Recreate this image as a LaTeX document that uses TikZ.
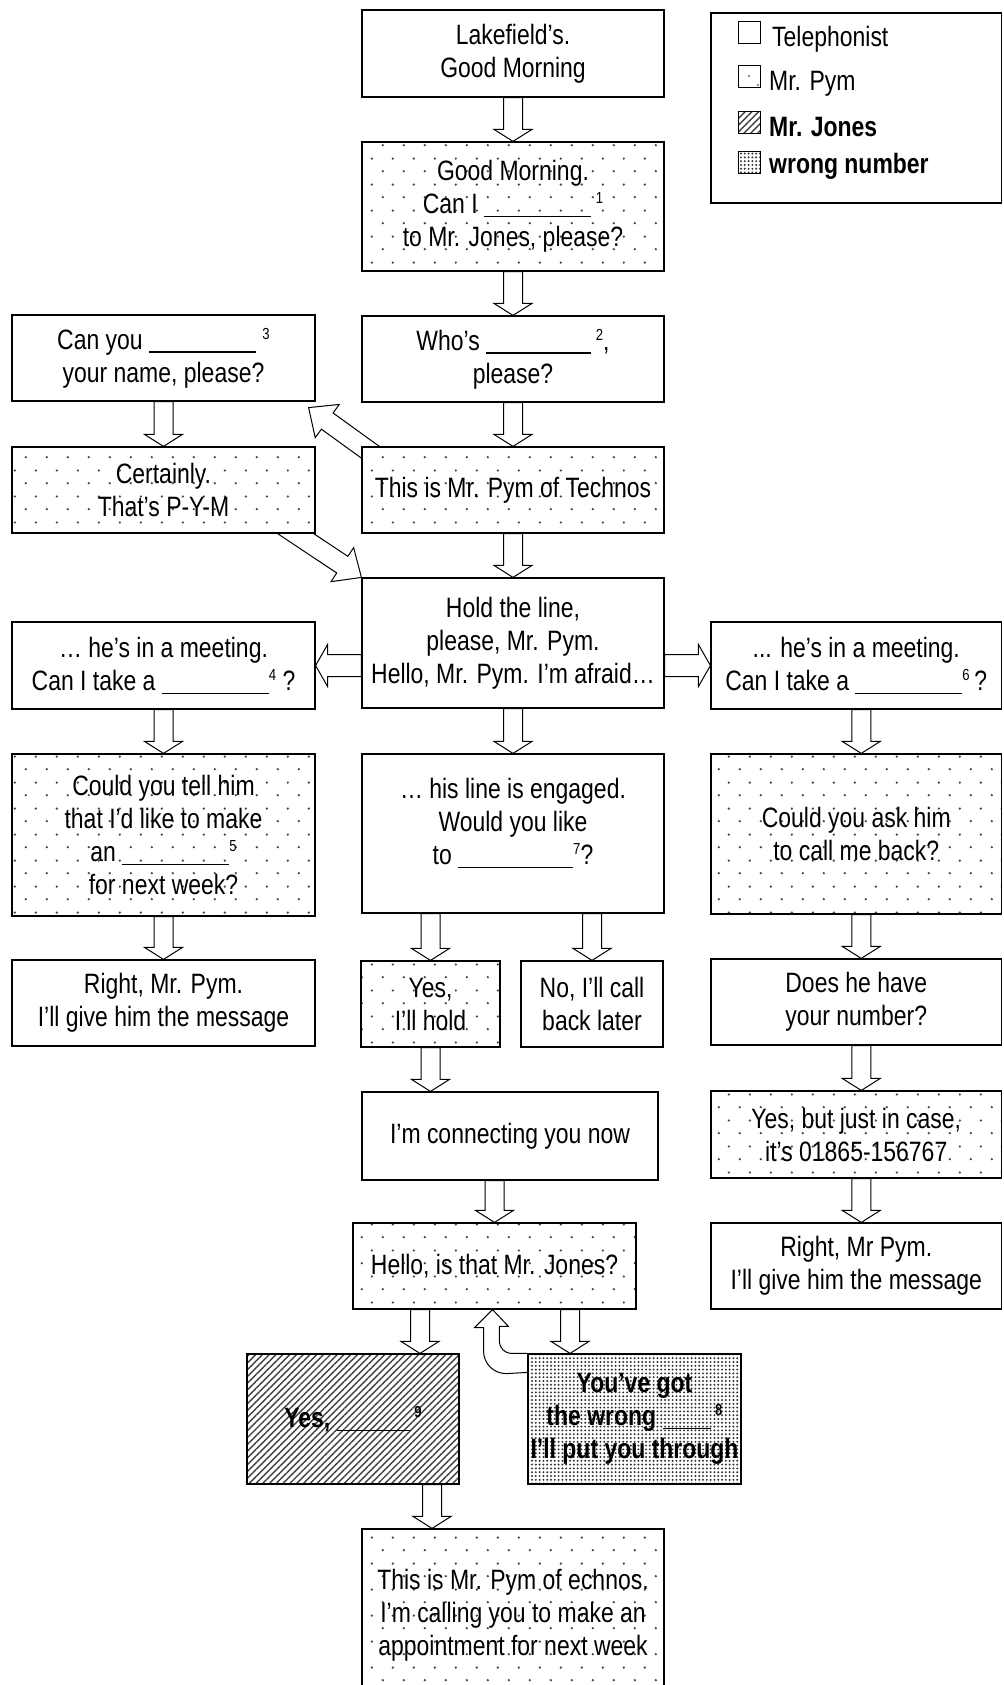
\documentclass[tikz,border=0pt]{standalone}
\usepackage{fontspec}
\setmainfont[FakeStretch=0.82]{Liberation Sans}
\usetikzlibrary{calc,patterns.meta}

\pgfdeclarelayer{back}
\pgfdeclarelayer{arrows}
\pgfsetlayers{back,arrows,main}

\newcommand\boxfont{\fontsize{28pt}{33pt}\selectfont}
\newcommand\supnum[1]{\raisebox{10pt}{\fontsize{16pt}{16pt}\selectfont #1}}
\newcommand\blankline[1][105pt]{\rule[-3.5pt]{#1}{1.3pt}}

% sparse staggered dots for Mr. Pym's lines
\tikzdeclarepattern{
  name=pymdots, type=uncolored,
  bounding box={(0pt,0pt) and (21pt,26pt)},
  tile size={(21pt,26pt)},
  code={\pgfpathcircle{\pgfpoint{5pt}{6pt}}{1.35pt}%
        \pgfpathcircle{\pgfpoint{15.5pt}{19pt}}{1.35pt}%
        \pgfusepath{fill}}
}

\tikzset{
  box/.style={draw, line width=1.2pt, fill=white, inner sep=0pt, align=center, font=\boxfont},
  pymfill/.style={path picture={\fill[pattern=pymdots, pattern color=black!70]
      (path picture bounding box.south west) rectangle (path picture bounding box.north east);}},
  jonesfill/.style={path picture={\fill[pattern={Lines[angle=45,distance=4.8pt,line width=1.4pt]}, pattern color=black!75]
      (path picture bounding box.south west) rectangle (path picture bounding box.north east);}},
  wrongfill/.style={path picture={\fill[pattern={Dots[distance=3.8pt,radius=1.1pt]}, pattern color=black!80]
      (path picture bounding box.south west) rectangle (path picture bounding box.north east);}},
  arrowline/.style={draw, line width=1pt, fill=white, line join=miter},
  keybox/.style={draw, line width=1pt, fill=white, minimum size=22pt, inner sep=0pt},
  keytext/.style={anchor=base west, inner sep=0pt, font=\boxfont},
}

% hollow block arrow: [shaft half width][head length][head half width]{from}{to}
\NewDocumentCommand\blockarr{O{9.5pt} O{12pt} O{19pt} m m}{%
  \coordinate (baS) at (#4);
  \coordinate (baE) at (#5);
  \coordinate (baH) at ($(baE)!#2!(baS)$);
  \path[arrowline] ($(baS)!#1!90:(baE)$) -- ($(baH)!#1!90:(baE)$) -- ($(baH)!#3!90:(baE)$)
    -- (baE) -- ($(baH)!#3!-90:(baE)$) -- ($(baH)!#1!-90:(baE)$) -- ($(baS)!#1!-90:(baE)$) -- cycle;
}

\begin{document}
\begin{tikzpicture}[x=1pt,y=-1pt]
\begin{pgfonlayer}{back}
  \fill[white] (0,0) rectangle (1003,1685);
\end{pgfonlayer}
\useasboundingbox (0,0) rectangle (1003,1685);

% ---- centre column ----
\node[box, minimum width=302pt, minimum height=87pt] (lake) at (513,53.5) {Lakefield’s.\\Good Morning};
\node[box, pymfill, minimum width=302pt, minimum height=129pt] (good) at (513,206.5)
  {Good Morning.\\Can I \blankline[107pt]\,\supnum{1}\\to Mr. Jones, please?};
\node[box, minimum width=302pt, minimum height=86pt] (who) at (513,359) {Who’s \blankline\,\supnum{2},\\please?};
\node[box, pymfill, minimum width=302pt, minimum height=86pt] (pym1) at (513,490) {This is Mr. Pym of Technos};
\node[box, minimum width=302pt, minimum height=130pt] (hold) at (513,643)
  {Hold the line,\\please, Mr. Pym.\\Hello, Mr. Pym. I’m afraid…};
\node[box, minimum width=302pt, minimum height=159pt] (engaged) at (513,833.5) {};
\node[font=\boxfont, align=center, inner sep=0pt] (engagedtext) at (513,823)
  {… his line is engaged.\\Would you like\\to \blankline[115pt]\supnum{7}?};
\node[box, pymfill, minimum width=139pt, minimum height=86pt] (yeshold) at (430.5,1004) {Yes,\\I’ll hold};
\node[box, minimum width=142pt, minimum height=86pt] (nocall) at (592,1004) {No, I'll call\\back later};
\node[box, minimum width=296pt, minimum height=88pt] (connecting) at (510,1136) {I'm connecting you now};
\node[box, pymfill, minimum width=283pt, minimum height=86pt] (hello) at (494.5,1266) {Hello, is that Mr. Jones?};
\node[box, jonesfill, minimum width=212pt, minimum height=130pt, font=\boxfont\bfseries] (yesjones) at (353,1419)
  {Yes, \blankline[73pt]\,\supnum{9}};
\node[box, wrongfill, minimum width=213pt, minimum height=130pt, font=\boxfont\bfseries] (wrong) at (634.5,1419)
  {You’ve got\\the wrong \blankline[48pt]\,\supnum{8}\\I’ll put you through};
\node[box, pymfill, minimum width=302pt, minimum height=192pt] (final) at (513,1625) {};
\node[font=\boxfont, align=center, inner sep=0pt] (finaltext) at (513,1615)
  {This is Mr. Pym of echnos.\\I’m calling you to make an\\appointment for next week};

% ---- left column ----
\node[box, minimum width=303pt, minimum height=86pt] (canyou) at (163.5,358)
  {Can you \blankline[107pt]\ \supnum{3}\\your name, please?};
\node[box, pymfill, minimum width=303pt, minimum height=86pt] (certainly) at (163.5,490) {Certainly.\\That’s P-Y-M};
\node[box, minimum width=303pt, minimum height=87pt] (lmeet) at (163.5,665.5)
  {… he’s in a meeting.\\Can I take a \blankline[107pt]\supnum{4} ?};
\node[box, pymfill, minimum width=303pt, minimum height=162pt] (couldtell) at (163.5,835)
  {Could you tell him\\that I’d like to make\\an \blankline[107pt]\supnum{5}\\for next week?};
\node[box, minimum width=303pt, minimum height=86pt] (rightpym) at (163.5,1003)
  {Right, Mr. Pym.\\I’ll give him the message};

% ---- right column ----
\node[box, minimum width=290.5pt, minimum height=87pt] (rmeet) at (856.25,665.5)
  {... he's in a meeting.\\Can I take a \blankline[107pt]\supnum{6}\,?};
\node[box, pymfill, minimum width=290.5pt, minimum height=160pt] (askhim) at (856.25,834)
  {Could you ask him\\to call me back?};
\node[box, minimum width=290.5pt, minimum height=86pt] (doeshe) at (856.25,1002) {Does he have\\your number?};
\node[box, pymfill, minimum width=290.5pt, minimum height=87pt] (yesbut) at (856.25,1134.5)
  {Yes, but just in case,\\it’s 01865-156767};
\node[box, minimum width=290.5pt, minimum height=86pt] (rightmr) at (856.25,1266)
  {Right, Mr Pym.\\I'll give him the message};

% ---- key ----
\node[draw, line width=1.2pt, minimum width=290.5pt, minimum height=190pt, inner sep=0pt] (legend) at (856.25,108) {};
\node[keybox] (keytel) at (749,33) {};
\node[keybox] (keypym) at (749,77) {};
\fill[black!60] ([shift={(0,-1)}]keypym.center) circle (1.2pt) ([shift={(9,8)}]keypym.center) circle (1.2pt);
\node[keybox, jonesfill] (keyjones) at (749,123) {};
\node[keybox, wrongfill] (keywrong) at (749,163) {};
\node[keytext] (keyteltext) at (772,47) {Telephonist};
\node[keytext] (keypymtext) at (769,91) {Mr. Pym};
\node[keytext, font=\boxfont\bfseries] (keyjonestext) at (769,137) {Mr. Jones};
\node[keytext, font=\boxfont\bfseries] (keywrongtext) at (769,174) {wrong number};

% ---- connectors ----
\coordinate (jonesin) at ([xshift=67pt]yesjones.north);
\coordinate (wrongin) at ([xshift=-64.5pt]wrong.north);
\coordinate (finalin) at ([xshift=-81pt]final.north);
\begin{pgfonlayer}{arrows}
  \blockarr{lake.south}{good.north}
  \blockarr{good.south}{who.north}
  \blockarr{who.south}{pym1.north}
  \blockarr{pym1.south}{hold.north}
  \blockarr{canyou.south}{certainly.north}
  \blockarr{hold.south}{engaged.north}
  \blockarr{lmeet.south}{couldtell.north}
  \blockarr{couldtell.south}{rightpym.north}
  \blockarr{[xshift=5pt]rmeet.south}{[xshift=5pt]askhim.north}
  \blockarr{[xshift=5pt]askhim.south}{[xshift=5pt]doeshe.north}
  \blockarr{[xshift=5pt]doeshe.south}{[xshift=5pt]yesbut.north}
  \blockarr{[xshift=5pt]yesbut.south}{[xshift=5pt]rightmr.north}
  \blockarr{yeshold.north |- engaged.south}{yeshold.north}
  \blockarr{nocall.north |- engaged.south}{nocall.north}
  \blockarr{yeshold.south}{yeshold.south |- connecting.north}
  \blockarr{hello.north |- connecting.south}{hello.north}
  \blockarr{hello.south -| jonesin}{jonesin}
  \blockarr{hello.south -| wrongin}{wrongin}
  \blockarr{yesjones.south -| finalin}{finalin}
  \blockarr[11pt][12pt][21pt]{hold.west |- lmeet.east}{lmeet.east}
  \blockarr[11pt][12pt][21pt]{hold.east |- rmeet.west}{rmeet.west}
  \blockarr[10pt][23pt][20.5pt]{[shift={(23,16)}]pym1.north west}{[shift={(-7,6)}]canyou.south east}
  \blockarr[10pt][23pt][20.5pt]{[shift={(-35,-10)}]certainly.south east}{hold.north west}
  % bent arrow from the wrong-number reply back up to the greeting
  \path[arrowline] (wrong.north west) -- ++(-15,0) .. controls +(-8,0) and +(0,8) .. ++(-13,-13)
    -- ++(0,-14) -- ++(9,0) -- ([xshift=-2pt]hello.south) -- ++(-18,18) -- ++(9,0) -- ++(0,23)
    .. controls +(0,13) and +(-13,0) .. ++(23,23) -- ([yshift=-19pt]wrong.north west);
\end{pgfonlayer}
\end{tikzpicture}
\end{document}
